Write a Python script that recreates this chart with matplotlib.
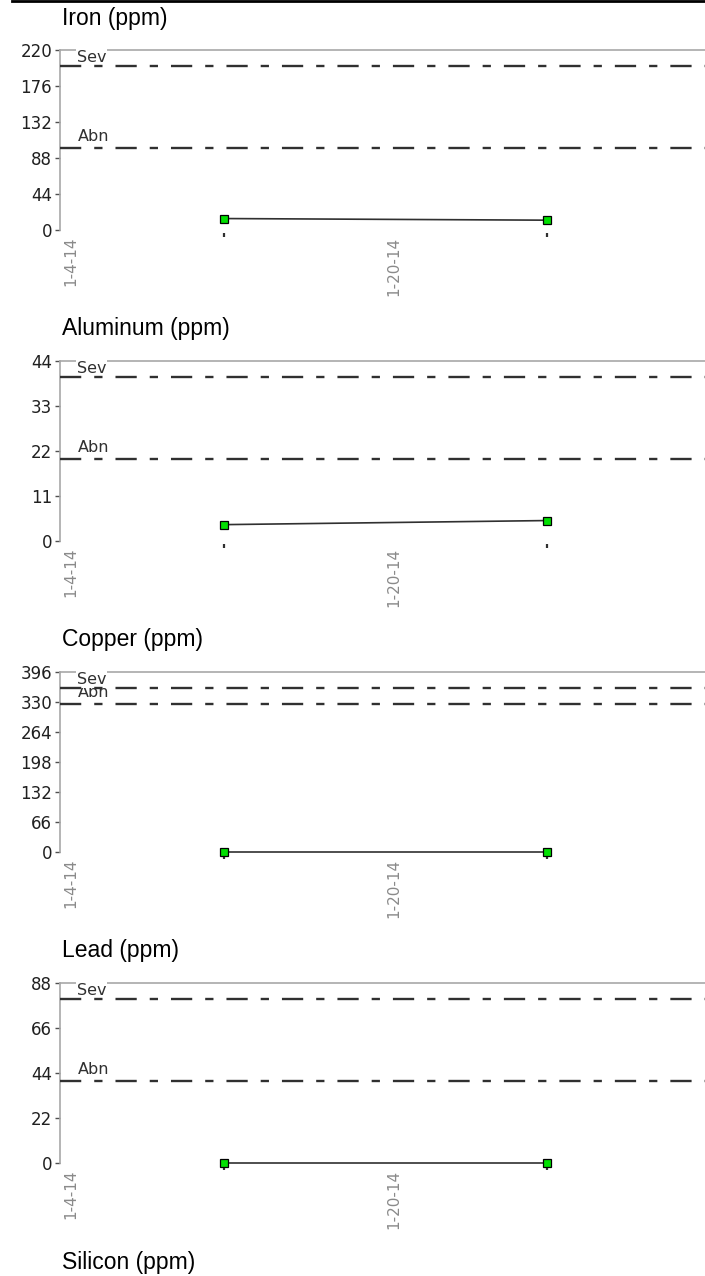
import numpy as np
import pandas as pd
import matplotlib
matplotlib.use("Agg")
import matplotlib.pyplot as plt
import matplotlib.dates as mdates
from matplotlib.lines import Line2D

# sample dates and readings
sample_dates = pd.to_datetime(["2014-01-11 14:00", "2014-01-27 14:00"])
tick_dates = pd.to_datetime(["2014-01-04", "2014-01-20"])
tick_labels = ["1-4-14", "1-20-14"]

elements = ["Iron (ppm)", "Aluminum (ppm)", "Copper (ppm)", "Lead (ppm)"]
iron = [14, 12]
aluminum = [4, 5]
copper = [0, 0]
lead = [0, 0]
values = [iron, aluminum, copper, lead]

# severe / abnormal limits
sev_limits = [200, 40, 360, 80]
abn_limits = [100, 20, 325, 40]
y_max = [220, 44, 396, 88]
y_steps = [5, 4, 6, 4]

next_title = "Silicon (ppm)"

W, H = 705, 1276
fig = plt.figure(figsize=(W / 100, H / 100), dpi=100)

grey_axis = "#a8a8a8"
dark = "#303030"
dash = (0, (9, 5.5, 3.5, 5.5))

x0 = mdates.date2num(tick_dates[0]) - 0.54
x1 = x0 + 645 / 20.2

panel_gap = 311
for k, name in enumerate(elements):
    top = 50 + panel_gap * k
    bottom = top + 180
    ax = fig.add_axes([60 / W, 1 - bottom / H, 645 / W, 180 / H])

    for s in ["right", "bottom"]:
        ax.spines[s].set_visible(False)
    for s in ["left", "top"]:
        ax.spines[s].set_color(grey_axis)
        ax.spines[s].set_linewidth(1.2)

    ax.set_ylim(0, y_max[k])
    ax.set_xlim(x0, x1)
    ax.set_yticks(np.linspace(0, y_max[k], y_steps[k] + 1))
    ax.yaxis.set_major_formatter(matplotlib.ticker.FormatStrFormatter("%d"))
    ax.tick_params(axis="y", length=3.6, width=1, color="#505050",
                   labelsize=12, labelcolor="#202020", pad=2)
    ax.set_xticks(mdates.date2num(tick_dates))
    ax.set_xticklabels(tick_labels, rotation=90, va="top", ha="center")
    ax.tick_params(axis="x", length=0, pad=5, labelsize=11,
                   labelcolor="#8a8a8a")

    ax.axhline(sev_limits[k], color=dark, lw=1.7, ls=dash, zorder=7)
    ax.axhline(abn_limits[k], color=dark, lw=1.7, ls=dash, zorder=3)

    ax.annotate("Abn", xy=(0.028, abn_limits[k]),
                xycoords=ax.get_yaxis_transform(),
                xytext=(0, 5), textcoords="offset points",
                va="baseline", ha="left", fontsize=11.5, color="#303030",
                zorder=5)
    ax.text(0.026, 1.0, "Sev", transform=ax.transAxes, va="top", ha="left",
            fontsize=11.5, color="#303030", zorder=6,
            bbox=dict(boxstyle="square,pad=0.05", fc="white", ec="none"))

    ax.plot(mdates.date2num(sample_dates), values[k], color=dark, lw=1.2,
            marker="s", ms=5.8, mfc="#00e000", mec="black", mew=0.9,
            clip_on=False, zorder=8)
    ax.plot(mdates.date2num(sample_dates), [-0.03] * len(sample_dates),
            transform=ax.get_xaxis_transform(), ls="none", marker="|",
            ms=3, mew=1.6, color=dark, clip_on=False)

    fig.text(62 / W, 1 - (18 + panel_gap * k) / H, name, va="center",
             ha="left", fontsize=16.5, family="Liberation Sans", color="black")

fig.text(62 / W, 1 - (18 + panel_gap * 4) / H, next_title, va="center",
         ha="left", fontsize=16.5, family="Liberation Sans", color="black")

fig.add_artist(Line2D([12 / W, 1], [1 - 1.2 / H] * 2, lw=2, color="black"))

fig.savefig("out.png", dpi=100)
